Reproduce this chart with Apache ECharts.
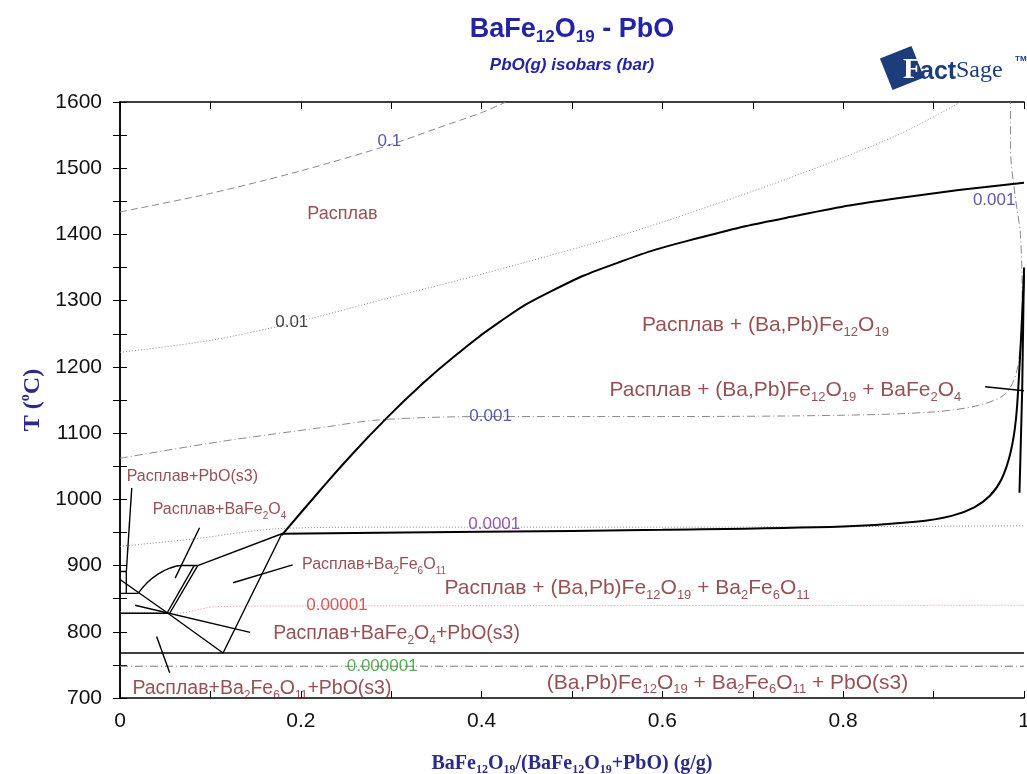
<!DOCTYPE html>
<html>
<head>
<meta charset="utf-8">
<script src="https://cdn.jsdelivr.net/npm/echarts@6/dist/echarts.min.js"></script>
<style>
  html, body { margin: 0; padding: 0; background: #fff; }
  #chart { width: 1027px; height: 774px; }
</style>
</head>
<body>
<div id="chart"></div>
<script>
// phase boundaries, [x (g/g), T (C)]
const liquidus = [[0.179, 946], [0.221, 1013], [0.254, 1064], [0.293, 1120], [0.331, 1170], [0.37, 1216],
  [0.42, 1268], [0.475, 1313], [0.552, 1358], [0.641, 1395], [0.751, 1429], [0.862, 1455], [1.0, 1478]];
const hexaferriteBoundary = [[0.179, 948], [0.4, 951], [0.6, 954], [0.8, 959], [0.88, 966], [0.92, 975],
  [0.945, 988], [0.962, 1005], [0.975, 1030], [0.985, 1070], [0.991, 1120], [0.995, 1200], [0.998, 1280], [1.0, 1340]];
const rightEdgeLine = [[0.995, 1010], [0.998, 1165], [1.0, 1350]];
const pboLiquidus = [[0, 879], [0.053, 828]];
const eutectic828 = [[0, 828], [0.053, 828]];
const eutectic858 = [[0, 858], [0.02, 858]];
const pboBox = [[0, 891], [0.007, 891], [0.007, 858]];
const bafe2o4Liquidus = [[0.02, 858], [0.03, 874], [0.042, 887], [0.055, 896], [0.068, 900], [0.086, 900]];
const peritecticA = [[0.086, 900], [0.055, 828]];
const peritecticB = [[0.082, 900], [0.052, 828]];
const ba2fe6o11Liquidus = [[0.086, 900], [0.179, 948]];
const lowerTriangle = [[0.179, 948], [0.114, 768], [0.053, 828]];
const solidus768 = [[0, 768], [1, 768]];

// leader lines from labels to their fields
const ptrPbO = [[0.013, 1017], [0.007, 891]];
const ptrBaFe2O4 = [[0.088, 957], [0.061, 881]];
const ptrBa2Fe6O11 = [[0.191, 901], [0.125, 874]];
const ptrBaFe2O4PbO = [[0.0166, 840], [0.144, 799]];
const ptrBa2Fe6O11PbO = [[0.0405, 793], [0.055, 738]];
const ptrRight = [[0.957, 1170], [1.0, 1164]];

// PbO(g) isobars
const iso1e1 = [[0, 1434], [0.1, 1462], [0.2, 1496], [0.3, 1536], [0.35, 1560], [0.4, 1584], [0.427, 1600]];
const iso1e2 = [[0, 1222], [0.1, 1240], [0.19, 1266], [0.3, 1305], [0.4, 1340], [0.55, 1397], [0.64, 1437],
  [0.75, 1490], [0.86, 1550], [0.93, 1600]];
const iso1e3 = [[0, 1062], [0.11, 1087], [0.221, 1108], [0.287, 1120], [0.4, 1125], [0.6, 1125], [0.8, 1127],
  [0.9, 1132], [0.95, 1142], [0.98, 1160], [0.993, 1200], [0.998, 1300], [0.996, 1400], [0.99, 1460], [0.985, 1530], [0.985, 1600]];
const iso1e4 = [[0, 929], [0.08, 940], [0.179, 956], [0.3, 958], [0.6, 958], [1, 960]];
const iso1e5 = [[0, 830], [0.063, 828], [0.107, 838], [0.2, 839], [1, 840]];
const iso1e6 = [[0, 748], [1, 748]];

// isobar labels: text, x, T
const isobarLabels = [
  ["0.1", 0.298, 1540],
  ["0.01", 0.19, 1268],
  ["0.001", 0.41, 1125],
  ["0.001", 0.967, 1452],
  ["0.0001", 0.414, 962],
  ["0.00001", 0.24, 840],
  ["0.000001", 0.29, 748]
];

// field labels: text (with _{sub}), x, T
const bigLabels = [
  ["Расплав + (Ba,Pb)Fe_{12}O_{19}", 0.714, 1263],
  ["Расплав + (Ba,Pb)Fe_{12}O_{19} + BaFe_{2}O_{4}", 0.736, 1165],
  ["Расплав + (Ba,Pb)Fe_{12}O_{19} + Ba_{2}Fe_{6}O_{11}", 0.561, 866],
  ["(Ba,Pb)Fe_{12}O_{19} + Ba_{2}Fe_{6}O_{11} + PbO(s3)", 0.672, 723]
];
const midLabels = [
  ["Расплав+BaFe_{2}O_{4}+PbO(s3)", 0.306, 797],
  ["Расплав+Ba_{2}Fe_{6}O_{11}+PbO(s3)", 0.157, 714]
];
const meltLabel = [
  ["Расплав", 0.246, 1431]
];
const smallLabels = [
  ["Расплав+PbO(s3)", 0.08, 1034],
  ["Расплав+BaFe_{2}O_{4}", 0.11, 984],
  ["Расплав+Ba_{2}Fe_{6}O_{11}", 0.281, 901]
];

const SANS = "Liberation Sans, Arial, sans-serif";
const SERIF = "Liberation Serif, Times New Roman, serif";
const LABEL_RED = "#7d2428";
const AXIS_BLUE = "#2b2b86";
const isobarColors = { "0.1": "#2e2e9e", "0.01": "#111111", "0.001": "#2e2e9e", "0.0001": "#7a2a96",
  "0.00001": "#d42a2a", "0.000001": "#2c9a2c" };

function toRich(str) {
  const parts = str.split(/_\{([^}]*)\}/);
  return parts.map((p, i) => (p === "" ? "" : (i % 2 ? `{s|${p}}` : `{n|${p}}`))).join("");
}

function richStyle(size, color) {
  const sub = Math.round(size * 0.62);
  return {
    n: { fontSize: size, color, fontFamily: SANS, lineHeight: size + 6 },
    s: { fontSize: sub, color, fontFamily: SANS, lineHeight: sub, verticalAlign: "bottom" }
  };
}

function lineSeries(data, style, smooth) {
  return {
    type: "line",
    data,
    smooth: smooth || false,
    showSymbol: false,
    symbol: "none",
    silent: true,
    animation: false,
    lineStyle: style,
    z: 3
  };
}

function labelSeries(list, size) {
  return {
    type: "scatter",
    symbolSize: 0,
    silent: true,
    animation: false,
    z: 5,
    data: list.map(([text, x, t]) => ({
      value: [x, t],
      label: {
        show: true,
        position: "inside",
        formatter: toRich(text),
        rich: richStyle(size, LABEL_RED)
      }
    }))
  };
}

const solid = { color: "#000", width: 2 };
const thin = { color: "#000", width: 1.4 };
const isoGrey = "#8a8a8a";

const series = [
  lineSeries(iso1e1, { color: isoGrey, width: 1, type: [7, 4] }, 0.3),
  lineSeries(iso1e2, { color: isoGrey, width: 1, type: [1, 2] }, 0.3),
  lineSeries(iso1e3, { color: isoGrey, width: 1, type: [8, 3, 1, 3] }, 0.3),
  lineSeries(iso1e4, { color: isoGrey, width: 1, type: [1, 2] }, 0.3),
  lineSeries(iso1e5, { color: "#e08a8a", width: 1, type: [1, 2] }, 0.3),
  lineSeries(iso1e6, { color: "#777", width: 1, type: [8, 3, 1, 3] }),
  lineSeries(liquidus, solid, 0.5),
  lineSeries(hexaferriteBoundary, solid, 0.35),
  lineSeries(rightEdgeLine, solid),
  lineSeries(pboLiquidus, thin),
  lineSeries(eutectic828, thin),
  lineSeries(eutectic858, thin),
  lineSeries(pboBox, thin),
  lineSeries(bafe2o4Liquidus, thin, 0.4),
  lineSeries(peritecticA, thin),
  lineSeries(peritecticB, thin),
  lineSeries(ba2fe6o11Liquidus, thin),
  lineSeries(lowerTriangle, thin),
  lineSeries(solidus768, thin),
  lineSeries(ptrPbO, thin),
  lineSeries(ptrBaFe2O4, thin),
  lineSeries(ptrBa2Fe6O11, thin),
  lineSeries(ptrBaFe2O4PbO, thin),
  lineSeries(ptrBa2Fe6O11PbO, thin),
  lineSeries(ptrRight, thin),
  {
    type: "scatter",
    symbolSize: 0,
    silent: true,
    animation: false,
    z: 5,
    data: isobarLabels.map(([text, x, t]) => ({
      value: [x, t],
      label: {
        show: true,
        position: "inside",
        formatter: text,
        fontSize: 17,
        fontFamily: SANS,
        color: isobarColors[text]
      }
    }))
  },
  labelSeries(bigLabels, 21),
  labelSeries(midLabels, 19.5),
  labelSeries(meltLabel, 18),
  labelSeries(smallLabels, 16)
];

const frameLine = { show: true, lineStyle: { color: "#000", width: 1.5 } };
const innerTick = { show: true, inside: true, length: 7, lineStyle: { color: "#000", width: 1 } };

function xLabel(v) {
  const k = Math.round(v * 10);
  if (k % 2) return "";
  return k === 0 ? "0" : k === 10 ? "1" : (k / 10).toFixed(1);
}

function yLabel(v) {
  return v % 100 === 0 ? String(v) : "";
}

const option = {
  backgroundColor: "#ffffff",
  animation: false,
  grid: { left: 120, right: 3, top: 102, bottom: 76, containLabel: false, outerBoundsMode: "none" },
  xAxis: [
    {
      type: "value", min: 0, max: 1, interval: 0.1, position: "bottom",
      axisLine: frameLine, axisTick: innerTick, splitLine: { show: false },
      axisLabel: { formatter: xLabel, fontSize: 21, color: "#111", fontFamily: SANS, margin: 13 },
      name: "{n|BaFe}{s|12}{n|O}{s|19}{n|/(BaFe}{s|12}{n|O}{s|19}{n|+PbO) (g/g)}",
      nameLocation: "middle",
      nameGap: 54,
      nameTextStyle: {
        rich: {
          n: { fontSize: 20, fontWeight: "bold", fontFamily: SERIF, color: AXIS_BLUE, lineHeight: 24 },
          s: { fontSize: 12, fontWeight: "bold", fontFamily: SERIF, color: AXIS_BLUE, lineHeight: 12, verticalAlign: "bottom" }
        }
      }
    },
    {
      type: "value", min: 0, max: 1, interval: 0.1, position: "top",
      axisLine: frameLine, axisTick: innerTick, splitLine: { show: false },
      axisLabel: { show: false }
    }
  ],
  yAxis: [
    {
      type: "value", min: 700, max: 1600, interval: 50, position: "left",
      axisLine: frameLine, axisTick: innerTick, splitLine: { show: false },
      axisLabel: { formatter: yLabel, fontSize: 21, color: "#111", fontFamily: SANS, margin: 18 },
      name: "{n|T (}{p|o}{n|C)}",
      nameLocation: "middle",
      nameRotate: 90,
      nameGap: 66,
      nameTextStyle: {
        rich: {
          n: { fontSize: 24, fontWeight: "bold", fontFamily: SERIF, color: AXIS_BLUE, lineHeight: 28 },
          p: { fontSize: 14, fontWeight: "bold", fontFamily: SERIF, color: AXIS_BLUE, lineHeight: 14, verticalAlign: "top" }
        }
      }
    },
    {
      type: "value", min: 700, max: 1600, interval: 50, position: "right",
      axisLine: frameLine, axisTick: innerTick, splitLine: { show: false },
      axisLabel: { show: false }
    }
  ],
  graphic: [
    {
      type: "text", x: 572, y: 30,
      style: {
        text: "{n|BaFe}{s|12}{n|O}{s|19}{n| - PbO}",
        align: "center", verticalAlign: "middle",
        rich: {
          n: { fontSize: 27, fontWeight: "bold", fontFamily: SANS, fill: "#2323a8", lineHeight: 32 },
          s: { fontSize: 17, fontWeight: "bold", fontFamily: SANS, fill: "#2323a8", lineHeight: 17, verticalAlign: "bottom" }
        }
      }
    },
    {
      type: "text", x: 572, y: 65,
      style: {
        text: "PbO(g) isobars (bar)",
        align: "center", verticalAlign: "middle",
        font: "italic bold 17px " + SANS,
        fill: "#2323a8"
      }
    },
    {
      type: "group", x: 902, y: 68,
      children: [
        { type: "rect", rotation: 0.38,
          shape: { x: -17, y: -17, width: 34, height: 34 }, style: { fill: "#1d3c7c" } },
        { type: "text", x: 1, y: 2, style: { text: "F", font: "bold 30px " + SERIF, fill: "#ffffff",
          align: "left", verticalAlign: "middle" } },
        { type: "text", x: 18, y: 4, style: { text: "act", font: "bold 25px " + SANS, fill: "#1d3c7c",
          align: "left", verticalAlign: "middle" } },
        { type: "text", x: 54, y: 3, style: { text: "Sage", font: "24px " + SERIF, fill: "#1d3c7c",
          align: "left", verticalAlign: "middle" } },
        { type: "text", x: 113, y: -9, style: { text: "TM", font: "bold 8px " + SANS, fill: "#1d3c7c",
          align: "left", verticalAlign: "middle" } }
      ]
    }
  ],
  series
};

const chart = echarts.init(document.getElementById("chart"), null, { renderer: "canvas" });
chart.setOption(option);
</script>
</body>
</html>
